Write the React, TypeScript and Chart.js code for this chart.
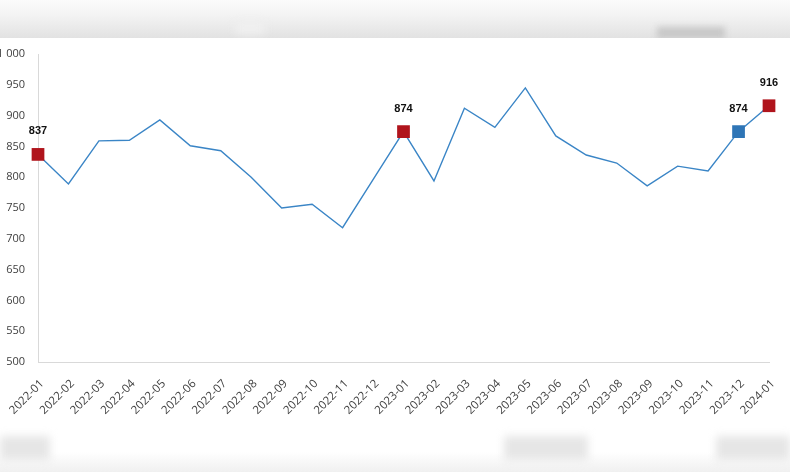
import React, { useEffect, useRef } from "react";
import { Chart, registerables } from "chart.js";

Chart.register(...registerables);

const categories = [
  "2022-01", "2022-02", "2022-03", "2022-04", "2022-05", "2022-06", "2022-07",
  "2022-08", "2022-09", "2022-10", "2022-11", "2022-12", "2023-01", "2023-02",
  "2023-03", "2023-04", "2023-05", "2023-06", "2023-07", "2023-08", "2023-09",
  "2023-10", "2023-11", "2023-12", "2024-01",
];
const values = [
  837, 789, 859, 860, 893, 851, 843, 800, 750, 756, 718, 796, 874, 794,
  912, 881, 945, 867, 836, 823, 786, 818, 810, 874, 916,
];
const highlightRed = [0, 12, 24];
const highlightBlue = [23];

const labelPlugin = {
  id: "valueLabels",
  afterDatasetsDraw(chart: any) {
    const ctx = chart.ctx;
    const meta = chart.getDatasetMeta(0);
    ctx.save();
    ctx.font = "bold 11px 'Liberation Sans', Arial, sans-serif";
    ctx.fillStyle = "#111";
    ctx.textAlign = "center";
    ctx.textBaseline = "middle";
    [...highlightRed, ...highlightBlue].forEach((i) => {
      const p = meta.data[i];
      ctx.fillText(String(values[i]), p.x, p.y - 23);
    });
    ctx.restore();
  },
};

export default function App() {
  const ref = useRef<HTMLCanvasElement>(null);
  useEffect(() => {
    if (!ref.current) return;
    const radii = values.map((_, i) =>
      highlightRed.includes(i) || highlightBlue.includes(i) ? 9 : 0
    );
    const colors = values.map((_, i) =>
      highlightBlue.includes(i) ? "#2E75B6" : highlightRed.includes(i) ? "#B0141C" : "#2E75B6"
    );
    const chart = new Chart(ref.current, {
      type: "line",
      data: {
        labels: categories,
        datasets: [
          {
            data: values,
            borderColor: "#3A85C6",
            borderWidth: 1.4,
            pointStyle: "rect",
            pointRadius: radii,
            pointHoverRadius: radii,
            pointBackgroundColor: colors,
            pointBorderColor: colors,
            pointBorderWidth: 0,
            tension: 0,
            clip: false as any,
          },
        ],
      },
      options: {
        animation: false,
        responsive: false,
        events: [],
        layout: { padding: { top: 54, right: 21, left: 0, bottom: 0 } },
        plugins: { legend: { display: false }, tooltip: { enabled: false } },
        scales: {
          x: {
            offset: false,
            grid: { display: false, drawTicks: false },
            border: { display: true, color: "#d9d9d9", width: 1 },
            ticks: {
              minRotation: 45,
              maxRotation: 45,
              autoSkip: false,
              padding: 15,
              labelOffset: 4,
              color: "#404040",
              font: { family: "'Open Sans', sans-serif", size: 11.5 },
            },
            afterFit(scale: any) {
              scale.height = 110;
              scale.paddingLeft = 0;
              scale.paddingRight = 0;
            },
          },
          y: {
            min: 500,
            max: 1000,
            grid: { display: false, drawTicks: false },
            border: { display: true, color: "#d9d9d9", width: 1 },
            ticks: {
              stepSize: 50,
              padding: 13,
              color: "#404040",
              font: { family: "'Open Sans', sans-serif", size: 11 },
              callback: (v: any) => (v >= 1000 ? "1 000" : String(v)),
            },
            afterFit(scale: any) {
              scale.width = 38;
              scale.paddingTop = 0;
              scale.paddingBottom = 0;
            },
          },
        },
      },
      plugins: [labelPlugin],
    });
    return () => chart.destroy();
  }, []);

  const blob = (left: number, top: number, w: number, h: number, c: string, b = 4) => (
    <div
      style={{
        position: "absolute",
        left,
        top,
        width: w,
        height: h,
        background: c,
        filter: `blur(${b}px)`,
      }}
    />
  );

  return (
    <div
      style={{
        position: "fixed",
        left: 0,
        top: 0,
        width: 790,
        height: 472,
        background: "#fff",
        overflow: "hidden",
      }}
    >
      <canvas ref={ref} width={790} height={472} style={{ position: "absolute", left: 0, top: 0 }} />
      <div
        style={{
          position: "absolute",
          left: 0,
          top: 0,
          width: 790,
          height: 38,
          background: "linear-gradient(#fbfbfb, #f3f3f3 40%, #e2e2e2)",
          overflow: "hidden",
        }}
      >
        {blob(657, 27, 68, 12, "#c8c8c8", 3)}
        {blob(235, 22, 30, 12, "#f0f0f0", 4)}
      </div>
      <div
        style={{
          position: "absolute",
          left: 0,
          top: 452,
          width: 790,
          height: 20,
          background: "linear-gradient(#ffffff, #f0f0f0)",
        }}
      />
      {blob(0, 436, 50, 24, "#e6e6e6")}
      {blob(504, 436, 84, 24, "#e6e6e6")}
      {blob(716, 436, 74, 24, "#e6e6e6")}
    </div>
  );
}
